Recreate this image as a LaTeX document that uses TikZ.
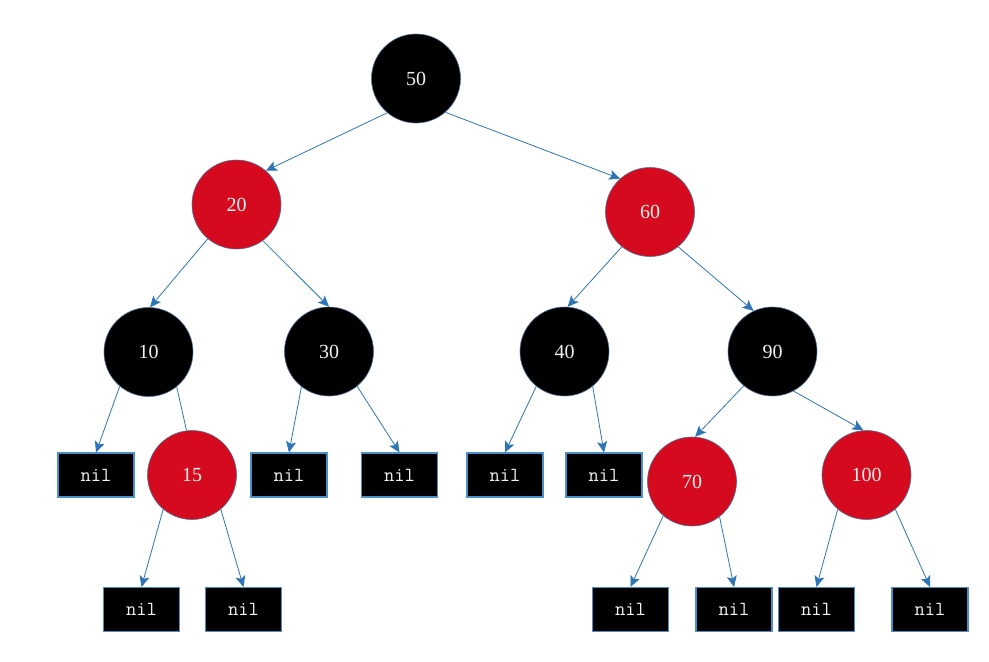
\documentclass[tikz,border=0pt]{standalone}
\usepackage{fontspec}
\newfontfamily\numfont{Liberation Serif}
\usetikzlibrary{arrows.meta}
\definecolor{rbred}{RGB}{214,10,31}
\definecolor{edgeblue}{RGB}{46,117,182}
\definecolor{boxblue}{RGB}{74,144,200}
\definecolor{ringblue}{RGB}{80,110,150}
\definecolor{txt}{RGB}{242,242,236}
\begin{document}
\begin{tikzpicture}[x=1pt,y=-1pt,
  rb/.style={circle,minimum size=89pt,inner sep=0pt,draw=ringblue,line width=0.6pt,text=txt,font=\numfont\fontsize{20}{24}\selectfont},
  blk/.style={rb,fill=black},
  red/.style={rb,fill=rbred},
  nilbox/.style={rectangle,minimum width=76pt,minimum height=44pt,inner sep=0pt,fill=black,draw=boxblue,line width=1.1pt,text=txt,font=\ttfamily\fontsize{20}{24}\selectfont},
  edge/.style={draw=edgeblue,line width=0.8pt},
  arr/.style={edge,-{Stealth[length=11pt,width=10pt,inset=2.5pt]}}]
\useasboundingbox (0,0) rectangle (989,662);
\fill[white] (0,0) rectangle (989,662);
% tree nodes
\node[blk] (n50) at (416,78.5) {50};
\node[red] (n20) at (236.5,204.5) {20};
\node[red] (n60) at (650,212) {60};
\node[blk] (n10) at (148.5,352) {10};
\node[blk] (n30) at (329,351.5) {30};
\node[blk] (n40) at (564.5,351.5) {40};
\node[blk] (n90) at (772.5,351.5) {90};
\node[red] (n15) at (192,475) {15};
\node[red] (n70) at (692,481.5) {70};
\node[red] (n100) at (866.5,475) {100};
% nil leaves
\node[nilbox] (a) at (96,475) {nil};
\node[nilbox] (b) at (289,475) {nil};
\node[nilbox] (c) at (399.5,475) {nil};
\node[nilbox] (d) at (505,475) {nil};
\node[nilbox] (e) at (604,475) {nil};
\node[nilbox] (f) at (141.5,609.5) {nil};
\node[nilbox] (g) at (243.5,609.5) {nil};
\node[nilbox] (h) at (630.5,609.5) {nil};
\node[nilbox] (i) at (734,609.5) {nil};
\node[nilbox] (j) at (816.5,609.5) {nil};
\node[nilbox] (k) at (930,609.5) {nil};
% edges
\draw[arr] (n50.230) -- (n20.49);
\draw[arr] (n50.311) -- (n60.132);
\draw[arr] (n20.230) -- (n10.88);
\draw[arr] (n20.306) -- (n30.90);
\draw[arr] (n60.231) -- (n40.86);
\draw[arr] (n60.309) -- (n90.115);
\draw[arr] (n10.230) -- (a.north);
\draw[edge] (n10.309) -- (n15.97);
\draw[arr] (n30.232) -- (b.north);
\draw[arr] (n30.309) -- (c.north);
\draw[arr] (n40.231) -- (d.north);
\draw[arr] (n40.309) -- (e.north);
\draw[arr] (n90.230) -- (n70.86);
\draw[arr] (n90.298) -- (n100.94);
\draw[arr] (n15.230) -- (f.north);
\draw[arr] (n15.310) -- (g.north);
\draw[arr] (n70.230) -- (h.north);
\draw[arr] (n70.308) -- (i.north);
\draw[arr] (n100.230) -- (j.north);
\draw[arr] (n100.310) -- (k.north);
\end{tikzpicture}
\end{document}
